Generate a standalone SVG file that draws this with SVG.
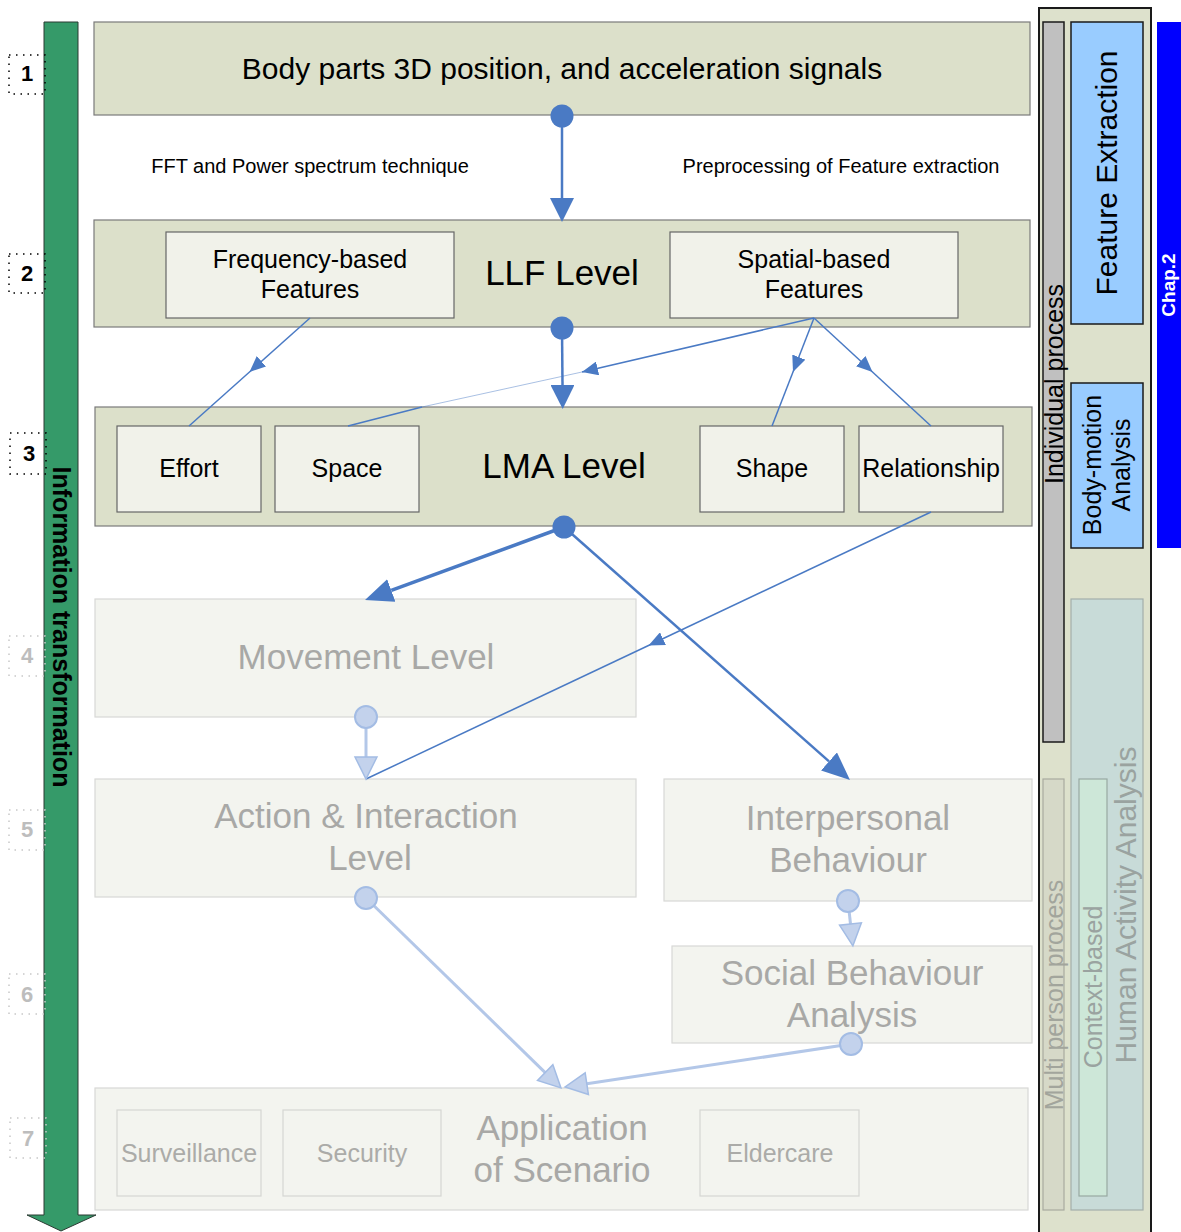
<svg xmlns="http://www.w3.org/2000/svg" width="1181" height="1232" viewBox="0 0 1181 1232">
  <defs>
    <style>
      text { font-family: "Liberation Sans", Arial, sans-serif; }
      .lvl { fill: #dce0ca; stroke: #7a7a7a; stroke-width: 1.2; }
      .sub { fill: #f1f2ea; stroke: #666; stroke-width: 1.2; }
      .fade { fill: #f3f4ef; stroke: #d8d8d6; stroke-width: 1.2; }
      .fadesub { fill: #f3f4ef; stroke: #d6d6d2; stroke-width: 1.2; }
      .t35 { font-size: 35px; fill: #000; text-anchor: middle; }
      .t25 { font-size: 25px; fill: #000; text-anchor: middle; }
      .f35 { font-size: 35px; fill: #a8a8a6; text-anchor: middle; }
      .f25 { font-size: 25px; fill: #ababa8; text-anchor: middle; }
      .num { font-size: 22px; font-weight: bold; text-anchor: middle; }
      .numbox { fill: none; stroke-width: 1.5; stroke-dasharray: 1.5 5.5; }
      .conn { stroke: #4a7ac4; fill: none; }
      .dot { fill: #4a7ac4; }
      .fconn { stroke: #b3c7e8; stroke-width: 3; fill: none; }
      .fdot { fill: #c3d2ec; stroke: #a3bce4; stroke-width: 2; }
    </style>
    <marker id="headBig" markerUnits="userSpaceOnUse" viewBox="0 0 24 24" refX="0" refY="12" markerWidth="24" markerHeight="24" orient="auto">
      <path d="M0,0 L24,12 L0,24 z" fill="#4a7ac4"/>
    </marker>
    <marker id="headWide" markerUnits="userSpaceOnUse" viewBox="0 0 28 24" refX="0" refY="12" markerWidth="28" markerHeight="24" orient="auto">
      <path d="M0,0 L28,12 L0,24 z" fill="#4a7ac4"/>
    </marker>
    <marker id="headMid" markerUnits="userSpaceOnUse" viewBox="0 0 16 14" refX="16" refY="7" markerWidth="16" markerHeight="14" orient="auto">
      <path d="M0,0 L16,7 L0,14 z" fill="#4a7ac4"/>
    </marker>
    <marker id="headFade" markerUnits="userSpaceOnUse" viewBox="-2 -2 26 26" refX="0" refY="11" markerWidth="26" markerHeight="26" orient="auto">
      <path d="M0,0 L22,11 L0,22 z" fill="#c3d2ec" stroke="#a3bce4" stroke-width="1.5"/>
    </marker>
  </defs>

  <rect width="1181" height="1232" fill="#fff"/>

  <!-- Information transformation axis -->
  <g id="axis">
    <polygon points="44,22 78,22 78,1215 96,1215 61,1231 27,1215 44,1215" fill="#359a69" stroke="#2b3b33" stroke-width="1"/>
    <text transform="translate(53,627) rotate(90)" text-anchor="middle" font-size="25" font-weight="bold" fill="#000">Information transformation</text>
  </g>

  <!-- level numbers -->
  <g id="numbers">
    <g id="n1"><rect class="numbox" x="9" y="55" width="36" height="39" stroke="#000"/><text class="num" x="27" y="81" fill="#000">1</text></g>
    <g id="n2"><rect class="numbox" x="9" y="254" width="36" height="39" stroke="#000"/><text class="num" x="27" y="281" fill="#000">2</text></g>
    <g id="n3"><rect class="numbox" x="10" y="433" width="36" height="41" stroke="#000"/><text class="num" x="29" y="461" fill="#000">3</text></g>
    <g id="n4"><rect class="numbox" x="9" y="636" width="36" height="40" stroke="#c8c8c8"/><text class="num" x="27" y="663" fill="#bdbdbd">4</text></g>
    <g id="n5"><rect class="numbox" x="9" y="810" width="36" height="40" stroke="#c8c8c8"/><text class="num" x="27" y="837" fill="#bdbdbd">5</text></g>
    <g id="n6"><rect class="numbox" x="9" y="974" width="36" height="40" stroke="#c8c8c8"/><text class="num" x="27" y="1002" fill="#bdbdbd">6</text></g>
    <g id="n7"><rect class="numbox" x="10" y="1118" width="36" height="40" stroke="#c8c8c8"/><text class="num" x="28" y="1146" fill="#bdbdbd">7</text></g>
  </g>

  <!-- level 1: raw signals -->
  <g id="signals">
    <rect class="lvl" x="94" y="22" width="936" height="93"/>
    <text x="562" y="79" text-anchor="middle" font-size="30" fill="#000">Body parts 3D position, and acceleration signals</text>
  </g>

  <g id="labels">
    <text x="310" y="173" text-anchor="middle" font-size="20" fill="#000">FFT and Power spectrum technique</text>
    <text x="841" y="173" text-anchor="middle" font-size="20" fill="#000">Preprocessing of Feature extraction</text>
  </g>

  <!-- level 2: LLF -->
  <g id="llf">
    <rect class="lvl" x="94" y="220" width="936" height="107"/>
    <text class="t35" x="562" y="285">LLF Level</text>
  </g>
  <g id="freq">
    <rect class="sub" x="166" y="232" width="288" height="86"/>
    <text class="t25" x="310" y="268">Frequency-based</text>
    <text class="t25" x="310" y="298">Features</text>
  </g>
  <g id="spatial">
    <rect class="sub" x="670" y="232" width="288" height="86"/>
    <text class="t25" x="814" y="268">Spatial-based</text>
    <text class="t25" x="814" y="298">Features</text>
  </g>

  <!-- level 3: LMA -->
  <g id="lma">
    <rect class="lvl" x="95" y="407" width="937" height="119"/>
    <text class="t35" x="564" y="478">LMA Level</text>
  </g>
  <g id="effort"><rect class="sub" x="117" y="426" width="144" height="86"/><text class="t25" x="189" y="477">Effort</text></g>
  <g id="space"><rect class="sub" x="275" y="426" width="144" height="86"/><text class="t25" x="347" y="477">Space</text></g>
  <g id="shape"><rect class="sub" x="700" y="426" width="144" height="86"/><text class="t25" x="772" y="477">Shape</text></g>
  <g id="relationship"><rect class="sub" x="859" y="426" width="144" height="86"/><text class="t25" x="931" y="477">Relationship</text></g>

  <!-- level 4-7 -->
  <g id="movement">
    <rect class="fade" x="95" y="599" width="541" height="118"/>
    <text class="f35" x="366" y="669">Movement Level</text>
  </g>
  <g id="action">
    <rect class="fade" x="95" y="779" width="541" height="118"/>
    <text class="f35" x="366" y="828">Action &amp; Interaction</text>
    <text class="f35" x="370" y="870">Level</text>
  </g>
  <g id="interpersonal">
    <rect class="fade" x="664" y="779" width="368" height="122"/>
    <text class="f35" x="848" y="830">Interpersonal</text>
    <text class="f35" x="848" y="872">Behaviour</text>
  </g>
  <g id="social">
    <rect class="fade" x="672" y="946" width="360" height="97"/>
    <text class="f35" x="852" y="985">Social Behaviour</text>
    <text class="f35" x="852" y="1027">Analysis</text>
  </g>
  <g id="application">
    <rect class="fade" x="95" y="1088" width="933" height="122"/>
    <text class="f35" x="562" y="1140">Application</text>
    <text class="f35" x="562" y="1182">of Scenario</text>
  </g>
  <g id="surveillance"><rect class="fadesub" x="117" y="1110" width="144" height="86"/><text class="f25" x="189" y="1162">Surveillance</text></g>
  <g id="security"><rect class="fadesub" x="283" y="1110" width="158" height="86"/><text class="f25" x="362" y="1162">Security</text></g>
  <g id="eldercare"><rect class="fadesub" x="700" y="1110" width="159" height="86"/><text class="f25" x="780" y="1162">Eldercare</text></g>

  <!-- side panel -->
  <g id="panel">
    <rect x="1039" y="8" width="112" height="1230" fill="#dde1cc" stroke="#1a1a1a" stroke-width="2"/>
  </g>
  <g id="individual">
    <rect x="1043" y="22" width="21" height="720" fill="#c0c0c0" stroke="#1a1a1a" stroke-width="1.5"/>
    <text transform="translate(1063,384) rotate(-90)" text-anchor="middle" font-size="25" fill="#000">Individual process</text>
  </g>
  <g id="multi">
    <rect x="1043" y="779" width="21" height="431" fill="#d6d9c8" stroke="#a8ab9f" stroke-width="1.2"/>
    <text transform="translate(1063,995) rotate(-90)" text-anchor="middle" font-size="25" fill="#a2a59c">Multi person process</text>
  </g>
  <g id="feature-extraction">
    <rect x="1071" y="22" width="72" height="302" fill="#99ccff" stroke="#1a1a1a" stroke-width="1.5"/>
    <text transform="translate(1117,173) rotate(-90)" text-anchor="middle" font-size="30" fill="#000">Feature Extraction</text>
  </g>
  <g id="body-motion">
    <rect x="1071" y="383" width="72" height="165" fill="#99ccff" stroke="#1a1a1a" stroke-width="1.5"/>
    <text transform="translate(1101,465) rotate(-90)" text-anchor="middle" font-size="25" fill="#000">Body-motion</text>
    <text transform="translate(1130,465) rotate(-90)" text-anchor="middle" font-size="25" fill="#000">Analysis</text>
  </g>
  <g id="human-activity">
    <rect x="1071" y="599" width="72" height="611" fill="#c8dbd8" stroke="#a3aeab" stroke-width="1.2"/>
    <text transform="translate(1136,905) rotate(-90)" text-anchor="middle" font-size="30" fill="#9aa3a0">Human Activity Analysis</text>
  </g>
  <g id="context">
    <rect x="1079" y="779" width="28" height="417" fill="#cde7d8" stroke="#98a8a2" stroke-width="1.2"/>
    <text transform="translate(1102,987) rotate(-90)" text-anchor="middle" font-size="25" fill="#9aa3a0">Context-based</text>
  </g>
  <g id="chap2">
    <rect x="1157" y="22" width="24" height="526" fill="#0000ff"/>
    <text transform="translate(1175,285) rotate(-90)" text-anchor="middle" font-size="19" font-weight="bold" fill="#fff">Chap.2</text>
  </g>

  <!-- connectors -->
  <g id="connectors">
    <line class="conn" x1="562" y1="116" x2="562" y2="198" stroke-width="2.5" marker-end="url(#headBig)"/>
    <line class="conn" x1="562" y1="328" x2="562.5" y2="385" stroke-width="2.5" marker-end="url(#headBig)"/>

    <path class="conn" d="M310,318 L249.5,372 L189,426" stroke-width="1.5" marker-mid="url(#headMid)"/>
    <path class="conn" d="M814,318 L582,372" stroke-width="1.5" marker-end="url(#headMid)"/>
    <path class="conn" d="M582,372 L422,407" stroke-width="0.8" opacity="0.6"/>
    <path class="conn" d="M422,407 L348,426" stroke-width="1.5"/>
    <path class="conn" d="M814,318 L793,372 L772,426" stroke-width="1.5" marker-mid="url(#headMid)"/>
    <path class="conn" d="M814,318 L872.5,372 L931,426" stroke-width="1.5" marker-mid="url(#headMid)"/>

    <line class="conn" x1="564" y1="527" x2="391.3" y2="590.4" stroke-width="3.5" marker-end="url(#headWide)"/>
    <line class="conn" x1="564" y1="527" x2="829" y2="761.4" stroke-width="2.5" marker-end="url(#headWide)"/>
    <path class="conn" d="M931,512 L648.5,645.5 L366,779" stroke-width="1.5" marker-mid="url(#headMid)"/>

    <circle class="dot" cx="562" cy="116" r="11.5"/>
    <circle class="dot" cx="562" cy="328" r="11.5"/>
    <circle class="dot" cx="564" cy="527" r="11.5"/>

    <line class="fconn" x1="366" y1="717" x2="366" y2="757" marker-end="url(#headFade)"/>
    <line class="fconn" x1="366" y1="898" x2="545.2" y2="1072.6" marker-end="url(#headFade)"/>
    <line class="fconn" x1="848" y1="901" x2="850.5" y2="924" marker-end="url(#headFade)"/>
    <line class="fconn" x1="851" y1="1044" x2="586.8" y2="1083.7" marker-end="url(#headFade)"/>

    <circle class="fdot" cx="366" cy="717" r="11"/>
    <circle class="fdot" cx="366" cy="898" r="11"/>
    <circle class="fdot" cx="848" cy="901" r="11"/>
    <circle class="fdot" cx="851" cy="1044" r="11"/>
  </g>
</svg>
